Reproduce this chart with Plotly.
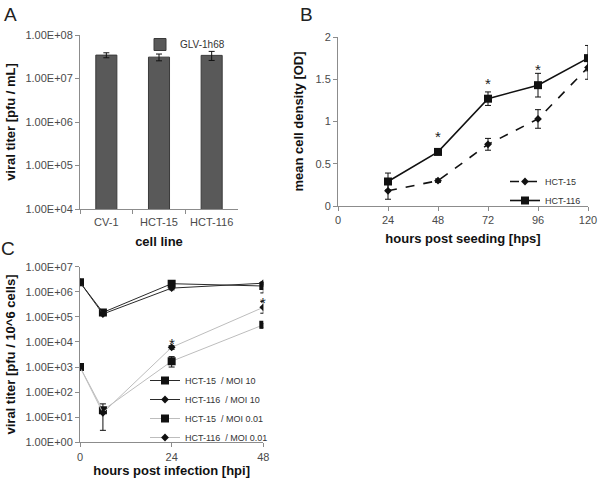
import numpy as np
import plotly.graph_objects as go

# ---------- data ----------
cell_lines = ["CV-1", "HCT-15", "HCT-116"]
titer_A = [3.45e7, 3.1e7, 3.4e7]
titer_A_err = [0.45e7, 0.55e7, 0.8e7]

hps = [24, 48, 72, 96, 120]
od_hct15 = [0.18, 0.30, 0.73, 1.03, 1.64]
od_hct15_err = [0.10, 0.02, 0.07, 0.11, 0.14]
od_hct116 = [0.29, 0.64, 1.27, 1.43, 1.75]
od_hct116_err = [0.10, 0.02, 0.08, 0.14, 0.15]
star_B_x = [48, 72, 96]
star_B_y = [0.87, 1.50, 1.66]

hpi = [0, 6, 24, 48]
c15_moi10 = [2.4e6, 1.5e5, 2.1e6, 1.7e6]
c15_moi10_ep = [0, 0, 0, 0.6e6]
c15_moi10_em = [0, 0, 0, 0.8e6]
c116_moi10 = [2.4e6, 1.3e5, 1.4e6, 2.2e6]
c116_moi10_ep = [0, 0, 0.2e6, 0.3e6]
c116_moi10_em = [0, 0, 0.2e6, 0.3e6]
c15_moi001 = [1.0e3, 19, 1.7e3, 4.8e4]
c15_moi001_ep = [0, 15, 0.9e3, 0.7e4]
c15_moi001_em = [0, 16, 0.7e3, 1.2e4]
c116_moi001 = [1.0e3, 15, 6.1e3, 2.4e5]
c116_moi001_ep = [0, 0, 1.0e3, 1.7e5]
c116_moi001_em = [0, 0, 1.0e3, 1.0e5]
star_C_x = [24, 48]
star_C_y = [1.3e4, 5.6e5]

tickvals_A = [1e4, 1e5, 1e6, 1e7, 1e8]
ticktext_A = ["1.00E+04", "1.00E+05", "1.00E+06", "1.00E+07", "1.00E+08"]
tickvals_C = [1e0, 1e1, 1e2, 1e3, 1e4, 1e5, 1e6, 1e7]
ticktext_C = ["1.00E+00", "1.00E+01", "1.00E+02", "1.00E+03",
              "1.00E+04", "1.00E+05", "1.00E+06", "1.00E+07"]

FONT = "Liberation Sans, Arial, sans-serif"
TICKC = "#4a4a4a"
AXC = "#8c8c8c"
W, H = 600, 485


def px(x):
    return x / W


def py(y):
    return 1 - y / H


fig = go.Figure()

# ---------- panel A ----------
fig.add_trace(go.Bar(
    x=cell_lines, y=titer_A, name="GLV-1h68", width=0.4,
    marker=dict(color="#595959", line=dict(color="#3a3a3a", width=1)),
    error_y=dict(type="data", array=titer_A_err, color="#111111", thickness=1, width=3),
    xaxis="x", yaxis="y", legend="legend",
))

# ---------- panel B ----------
fig.add_trace(go.Scatter(
    x=hps, y=od_hct15, name="HCT-15", mode="lines+markers",
    line=dict(color="#111111", width=1.6, dash="dash"),
    marker=dict(symbol="diamond", size=6, color="#111111"),
    error_y=dict(type="data", array=od_hct15_err, color="#111111", thickness=1, width=3),
    xaxis="x2", yaxis="y2", legend="legend2",
))
fig.add_trace(go.Scatter(
    x=hps, y=od_hct116, name="HCT-116", mode="lines+markers",
    line=dict(color="#111111", width=1.6),
    marker=dict(symbol="square", size=8, color="#111111"),
    error_y=dict(type="data", array=od_hct116_err, color="#111111", thickness=1, width=3),
    xaxis="x2", yaxis="y2", legend="legend2",
))

# ---------- panel C ----------
series_C = [
    ("HCT-15  / MOI 10", c15_moi10, c15_moi10_ep, c15_moi10_em, "square", 8, "#2a2a2a"),
    ("HCT-116  / MOI 10", c116_moi10, c116_moi10_ep, c116_moi10_em, "diamond", 6, "#2a2a2a"),
    ("HCT-15  / MOI 0.01", c15_moi001, c15_moi001_ep, c15_moi001_em, "square", 8, "#bdbdbd"),
    ("HCT-116  / MOI 0.01", c116_moi001, c116_moi001_ep, c116_moi001_em, "diamond", 6, "#bdbdbd"),
]
for name, ys, ep, em, sym, sz, lc in series_C:
    fig.add_trace(go.Scatter(
        x=hpi, y=ys, name=name, mode="lines+markers",
        line=dict(color=lc, width=1),
        marker=dict(symbol=sym, size=sz, color="#111111"),
        error_y=dict(type="data", array=ep, arrayminus=em, color="#111111", thickness=1, width=3),
        xaxis="x3", yaxis="y3", legend="legend3",
    ))

# ---------- annotations ----------
ann = []
for xv, yv in zip(star_B_x, star_B_y):
    ann.append(dict(x=xv, y=yv, xref="x2", yref="y2", text="*", showarrow=False,
                    font=dict(size=15, color="#222", family=FONT), yshift=-4))
for xv, yv in zip(star_C_x, star_C_y):
    ann.append(dict(x=xv, y=np.log10(yv), xref="x3", yref="y3", text="*", showarrow=False,
                    font=dict(size=15, color="#222", family=FONT), yshift=-4))
for lab, lx, ly in [("A", 10, 14), ("B", 306, 14), ("C", 8, 249)]:
    ann.append(dict(x=px(lx), y=py(ly), xref="paper", yref="paper", text=lab,
                    xanchor="center", yanchor="middle",
                    showarrow=False, font=dict(size=19, color="#222", family=FONT)))

tick_font = dict(size=11, color=TICKC, family=FONT)
title_font = dict(size=13, color="#111", family=FONT)

common = dict(showline=True, linecolor=AXC, linewidth=1, showgrid=False, zeroline=False,
              ticks="outside", ticklen=4, tickcolor=AXC, tickfont=tick_font, automargin=False)

fig.update_layout(
    width=W, height=H, margin=dict(l=0, r=0, t=0, b=0),
    paper_bgcolor="white", plot_bgcolor="white",
    font=dict(family=FONT),
    showlegend=True,
    xaxis=dict(domain=[px(80), px(238)], anchor="y", tickson="boundaries", ticklabelstandoff=3,
               title=dict(text="<b>cell line</b>", font=title_font, standoff=9), **common),
    yaxis=dict(domain=[py(209), py(35)], anchor="x", type="log", range=[4, 8],
               tickvals=tickvals_A, ticktext=ticktext_A,
               title=dict(text="<b>viral titer [pfu / mL]</b>", font=title_font, standoff=6), **common),
    xaxis2=dict(domain=[px(338), px(588)], anchor="y2", range=[0, 120], tickvals=[0, 24, 48, 72, 96, 120],
                title=dict(text="<b>hours post seeding [hps]</b>", font=title_font, standoff=8), **common),
    yaxis2=dict(domain=[py(206), py(37)], anchor="x2", range=[0, 2], tickvals=[0, 0.5, 1, 1.5, 2],
                title=dict(text="<b>mean cell density [OD]</b>", font=title_font, standoff=8), **common),
    xaxis3=dict(domain=[px(80), px(263.3)], anchor="y3", range=[0, 48], tickvals=[0, 24, 48],
                title=dict(text="<b>hours post infection [hpi]</b>", font=title_font, standoff=4), **common),
    yaxis3=dict(domain=[py(442.3), py(266.7)], anchor="x3", type="log", range=[0, 7],
                tickvals=tickvals_C, ticktext=ticktext_C,
                title=dict(text="<b>viral titer [pfu / 10^6 cells]</b>", font=title_font, standoff=6), **common),
    legend=dict(x=px(140), y=py(30), xanchor="left", yanchor="top", bgcolor="rgba(0,0,0,0)",
                font=dict(size=10, color="#333", family=FONT)),
    legend2=dict(x=px(505), y=py(167), xanchor="left", yanchor="top", bgcolor="rgba(0,0,0,0)",
                 font=dict(size=9, color="#333", family=FONT)),
    legend3=dict(x=px(145), y=py(366), xanchor="left", yanchor="top", bgcolor="rgba(0,0,0,0)",
                 font=dict(size=9, color="#333", family=FONT)),
    annotations=ann,
)

fig.write_html("out.html", config={"displayModeBar": False},
               post_script="document.body.style.margin='0';")
